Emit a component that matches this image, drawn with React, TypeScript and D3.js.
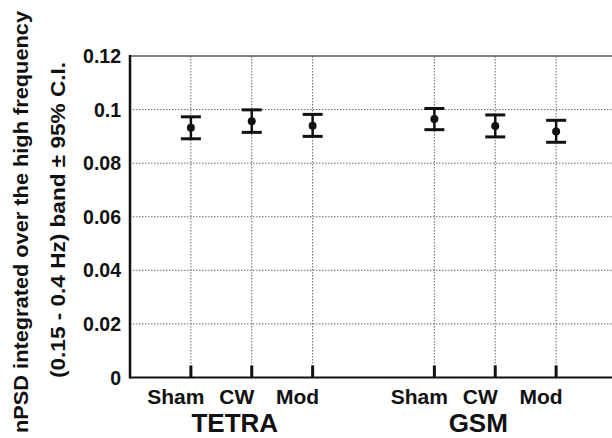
import * as d3 from "d3";

const groups = ["TETRA", "GSM"];
const conditions = ["Sham", "CW", "Mod"];
// position index on the x axis for each point (gap between groups)
const positions = [1, 2, 3, 5, 6, 7];
const means = [0.0932, 0.0956, 0.094, 0.0965, 0.0939, 0.0918];
const lower = [0.0891, 0.0915, 0.09, 0.0925, 0.0898, 0.0878];
const upper = [0.0973, 0.0999, 0.0982, 0.1004, 0.098, 0.096];
const yTicks = [0, 0.02, 0.04, 0.06, 0.08, 0.1, 0.12];

const W = 612;
const H = 438;
const font = "Arial, 'Liberation Sans', Helvetica, sans-serif";

const App = () => {
  const x = d3.scaleLinear().domain([0, 8]).range([130, 617]);
  const y = d3.scaleLinear().domain([0, 0.12]).range([377.5, 56]);

  const points = positions.map((p, i) => ({
    pos: p,
    label: conditions[i % conditions.length],
    mean: means[i],
    lo: lower[i],
    hi: upper[i],
  }));
  const capW = 10;

  return (
    <svg
      width={W}
      height={H}
      style={{ position: "absolute", left: 0, top: 0, background: "#fff" }}
      fontFamily={font}
      fontWeight="bold"
    >
      {/* horizontal grid */}
      {yTicks.slice(1, -1).map((t) => (
        <line key={"h" + t} x1={x(0)} x2={W} y1={y(t)} y2={y(t)}
          stroke="#666" strokeWidth={1} strokeDasharray="1.5,1.5" />
      ))}
      {/* vertical grid */}
      {positions.map((p) => (
        <line key={"v" + p} x1={x(p)} x2={x(p)} y1={y(0.12)} y2={y(0)}
          stroke="#666" strokeWidth={1} strokeDasharray="1.5,1.5" />
      ))}
      {/* frame */}
      <line x1={x(0)} x2={W} y1={y(0.12)} y2={y(0.12)} stroke="#555" strokeWidth={1.5} />
      <line x1={x(0)} x2={W} y1={y(0)} y2={y(0)} stroke="#111" strokeWidth={2} />
      <line x1={x(0)} x2={x(0)} y1={y(0.12) - 1} y2={y(0) + 1} stroke="#111" strokeWidth={2.5} />
      {/* category ticks */}
      {positions.map((p) => (
        <line key={"t" + p} x1={x(p)} x2={x(p)} y1={y(0)} y2={y(0) - 12}
          stroke="#111" strokeWidth={3} />
      ))}
      {/* y tick labels */}
      {yTicks.map((t) => (
        <text key={"yl" + t} x={121} y={y(t)} dy="0.36em" textAnchor="end" fontSize={19.5} fill="#111">
          {t === 0 ? "0" : String(t)}
        </text>
      ))}
      {/* error bars */}
      {points.map((d) => (
        <g key={"e" + d.pos} stroke="#111" strokeWidth={3}>
          <line x1={x(d.pos)} x2={x(d.pos)} y1={y(d.hi)} y2={y(d.lo)} strokeWidth={2.5} />
          <line x1={x(d.pos) - capW} x2={x(d.pos) + capW} y1={y(d.hi)} y2={y(d.hi)} />
          <line x1={x(d.pos) - capW} x2={x(d.pos) + capW} y1={y(d.lo)} y2={y(d.lo)} />
          <circle cx={x(d.pos)} cy={y(d.mean)} r={4} fill="#111" stroke="none" />
        </g>
      ))}
      {/* category labels */}
      {points.map((d) => (
        <text key={"cl" + d.pos} x={x(d.pos) - 15} y={404} textAnchor="middle" fontSize={21} fill="#111">
          {d.label}
        </text>
      ))}
      {/* group labels */}
      {groups.map((g, i) => (
        <text key={g} x={x(positions[i * 3 + 1]) - 17} y={432} textAnchor="middle" fontSize={26} fill="#111">
          {g}
        </text>
      ))}
      {/* y axis title */}
      <text transform="translate(28,222) rotate(-90)" textAnchor="middle" fontSize={20} fill="#111"
        textLength={422} lengthAdjust="spacingAndGlyphs">
        nPSD integrated over the high frequency
      </text>
      <text transform="translate(65,220) rotate(-90)" textAnchor="middle" fontSize={20} fill="#111"
        textLength={316} lengthAdjust="spacingAndGlyphs">
        (0.15 - 0.4 Hz) band  ± 95% C.I.
      </text>
    </svg>
  );
};

export default App;
